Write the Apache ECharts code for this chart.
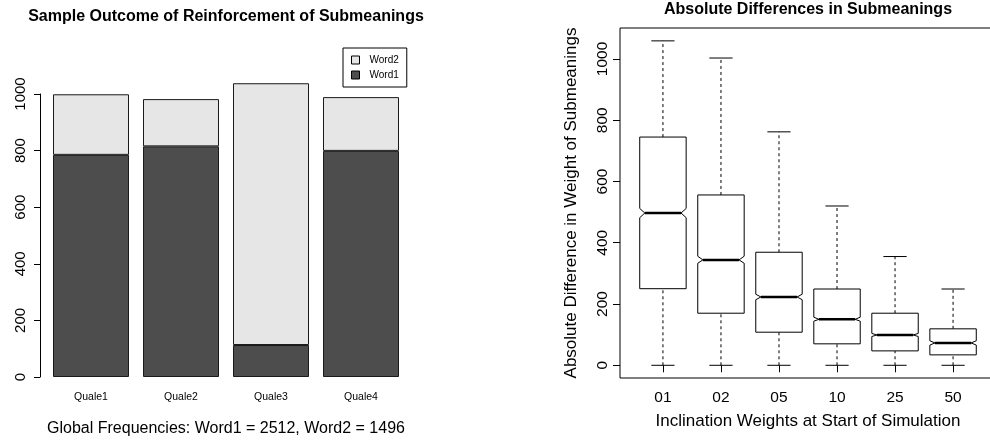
<!DOCTYPE html>
<html>
<head>
<meta charset="utf-8">
<script src="https://cdn.jsdelivr.net/npm/echarts@6/dist/echarts.min.js"></script>
<style>
html,body{margin:0;padding:0;background:#fff;}
#chart{width:990px;height:445px;}
</style>
</head>
<body>
<div id="chart"></div>
<script>
// ---- Left chart data ----
const quale = ['Quale1', 'Quale2', 'Quale3', 'Quale4'];
const word1 = [785, 815, 113, 799];
const word2 = [214, 167, 925, 190];
const leftTicks = [0, 200, 400, 600, 800, 1000];

// ---- Right chart data (notched boxplot) ----
const incl = ['01', '02', '05', '10', '25', '50'];
const whiskerLow = [0, 0, 0, 0, 0, 0];
const q1 = [250, 170, 108, 70, 47, 34];
const notchLow = [482, 333, 214, 144, 94, 66];
const median = [497, 344, 223, 150, 99, 73];
const notchHigh = [512, 356, 232, 157, 104, 80];
const q3 = [745, 556, 369, 249, 170, 119];
const whiskerHigh = [1059, 1003, 762, 520, 355, 249];
const rightTicks = [0, 200, 400, 600, 800, 1000];

const FONT = '"Liberation Sans", Arial, Helvetica, sans-serif';
const boxRows = incl.map((c, i) => [i + 1, whiskerLow[i], q1[i], notchLow[i], median[i], notchHigh[i], q3[i], whiskerHigh[i]]);
const plain = v => String(v);

const chart = echarts.init(document.getElementById('chart'), null, {renderer: 'canvas'});

const option = {
  backgroundColor: '#fff',
  textStyle: {fontFamily: FONT, color: '#000'},
  animation: false,
  title: [
    {text: 'Sample Outcome of Reinforcement of Submeanings', left: 226, top: 9, textAlign: 'center', padding: 0,
     textStyle: {fontFamily: FONT, fontWeight: 'bold', fontSize: 16, color: '#000'}},
    {text: 'Absolute Differences in Submeanings', left: 808, top: 2, textAlign: 'center', padding: 0,
     textStyle: {fontFamily: FONT, fontWeight: 'bold', fontSize: 16, color: '#000'}}
  ],
  legend: {
    data: ['Word2', 'Word1'],
    orient: 'vertical',
    left: 343, top: 48,
    padding: [7, 8, 7, 8],
    itemGap: 5,
    itemWidth: 8, itemHeight: 8,
    icon: 'rect',
    borderColor: '#000', borderWidth: 1,
    itemStyle: {borderColor: '#000', borderWidth: 1},
    textStyle: {fontFamily: FONT, fontSize: 10, color: '#000', lineHeight: 10, padding: [0, 0, 0, 5]}
  },
  grid: [
    {left: 46, width: 360, top: 71.36, bottom: 68, show: false, outerBoundsMode: 'none', containLabel: false},
    {left: 620, width: 376, top: 28, bottom: 67, show: true, borderColor: '#000', borderWidth: 1, backgroundColor: 'transparent', outerBoundsMode: 'none', containLabel: false},
    {left: 46, width: 360, top: 94, bottom: 68, show: false, outerBoundsMode: 'none', containLabel: false}
  ],
  xAxis: [
    {type: 'category', gridIndex: 0, data: quale,
     axisLine: {show: false}, axisTick: {show: false},
     axisLabel: {fontFamily: FONT, fontSize: 10.5, color: '#000', margin: 15},
     name: 'Global Frequencies: Word1 = 2512, Word2 = 1496', nameLocation: 'middle', nameGap: 44,
     nameTextStyle: {fontFamily: FONT, fontSize: 16, color: '#000'}},
    {type: 'value', gridIndex: 1, min: 0.26, max: 6.74,
     axisLine: {show: false}, splitLine: {show: false},
     axisTick: {show: true, length: 7, lineStyle: {color: '#000'}, customValues: [1, 2, 3, 4, 5, 6]},
     axisLabel: {fontFamily: FONT, fontSize: 15.5, color: '#000', margin: 12, customValues: [1, 2, 3, 4, 5, 6],
       formatter: v => incl[Math.round(v) - 1]},
     name: 'Inclination Weights at Start of Simulation', nameLocation: 'middle', nameGap: 35,
     nameTextStyle: {fontFamily: FONT, fontSize: 17, color: '#000'}},
    {type: 'category', gridIndex: 2, data: quale, show: false}
  ],
  yAxis: [
    {type: 'value', gridIndex: 0, min: 0, max: 1080, show: false},
    {type: 'value', gridIndex: 1, min: -41.5, max: 1101,
     axisLine: {show: false}, splitLine: {show: false},
     axisTick: {show: true, length: 7, lineStyle: {color: '#000'}, customValues: rightTicks},
     axisLabel: {fontFamily: FONT, fontSize: 15.5, color: '#000', rotate: 90, margin: 9, customValues: rightTicks, formatter: plain},
     name: 'Absolute Difference in Weight of Submeanings', nameLocation: 'middle', nameGap: 40,
     nameTextStyle: {fontFamily: FONT, fontSize: 17, color: '#000'}},
    {type: 'value', gridIndex: 2, min: 0, max: 1000, interval: 200, offset: 6,
     axisLine: {show: true, lineStyle: {color: '#000', width: 1}},
     splitLine: {show: false},
     axisTick: {show: true, length: 6, lineStyle: {color: '#000'}},
     axisLabel: {fontFamily: FONT, fontSize: 15, color: '#000', rotate: 90, margin: 12, formatter: plain}}
  ],
  series: [
    {name: 'Word1', type: 'bar', stack: 'q', xAxisIndex: 0, yAxisIndex: 0, data: word1, barWidth: 76,
     itemStyle: {color: '#4d4d4d', borderColor: '#1a1a1a', borderWidth: 1}},
    {name: 'Word2', type: 'bar', stack: 'q', xAxisIndex: 0, yAxisIndex: 0, data: word2, barWidth: 76,
     itemStyle: {color: '#e6e6e6', borderColor: '#1a1a1a', borderWidth: 1}},
    {name: 'box', type: 'custom', xAxisIndex: 1, yAxisIndex: 1, data: boxRows,
     encode: {x: 0, y: [1, 2, 3, 4, 5, 6, 7]},
     renderItem: function (params, api) {
       const x = api.value(0);
       const lo = api.value(1), a = api.value(2), nl = api.value(3), md = api.value(4),
             nh = api.value(5), b = api.value(6), hi = api.value(7);
       const unit = api.size([1, 0])[0];
       const hw = unit * 0.4, cw = unit * 0.2, nw = hw * 0.78;
       const cx = api.coord([x, md])[0];
       const Y = v => api.coord([x, v])[1];
       const stroke = {stroke: '#000', lineWidth: 1, fill: null};
       const dashed = {stroke: '#000', lineWidth: 1, lineDash: [3, 3], fill: null};
       return {
         type: 'group',
         children: [
           {type: 'line', shape: {x1: cx, y1: Y(b), x2: cx, y2: Y(hi)}, style: dashed},
           {type: 'line', shape: {x1: cx, y1: Y(lo), x2: cx, y2: Y(a)}, style: dashed},
           {type: 'line', shape: {x1: cx - cw, y1: Y(hi), x2: cx + cw, y2: Y(hi)}, style: stroke},
           {type: 'line', shape: {x1: cx - cw, y1: Y(lo), x2: cx + cw, y2: Y(lo)}, style: stroke},
           {type: 'polygon', shape: {points: [
             [cx - hw, Y(a)], [cx + hw, Y(a)], [cx + hw, Y(nl)], [cx + nw, Y(md)], [cx + hw, Y(nh)],
             [cx + hw, Y(b)], [cx - hw, Y(b)], [cx - hw, Y(nh)], [cx - nw, Y(md)], [cx - hw, Y(nl)]
           ]}, style: {stroke: '#000', lineWidth: 1, fill: '#fff'}},
           {type: 'line', shape: {x1: cx - nw, y1: Y(md), x2: cx + nw, y2: Y(md)}, style: {stroke: '#000', lineWidth: 2.5}}
         ]
       };
     }}
  ]
};
chart.setOption(option);
</script>
</body>
</html>
